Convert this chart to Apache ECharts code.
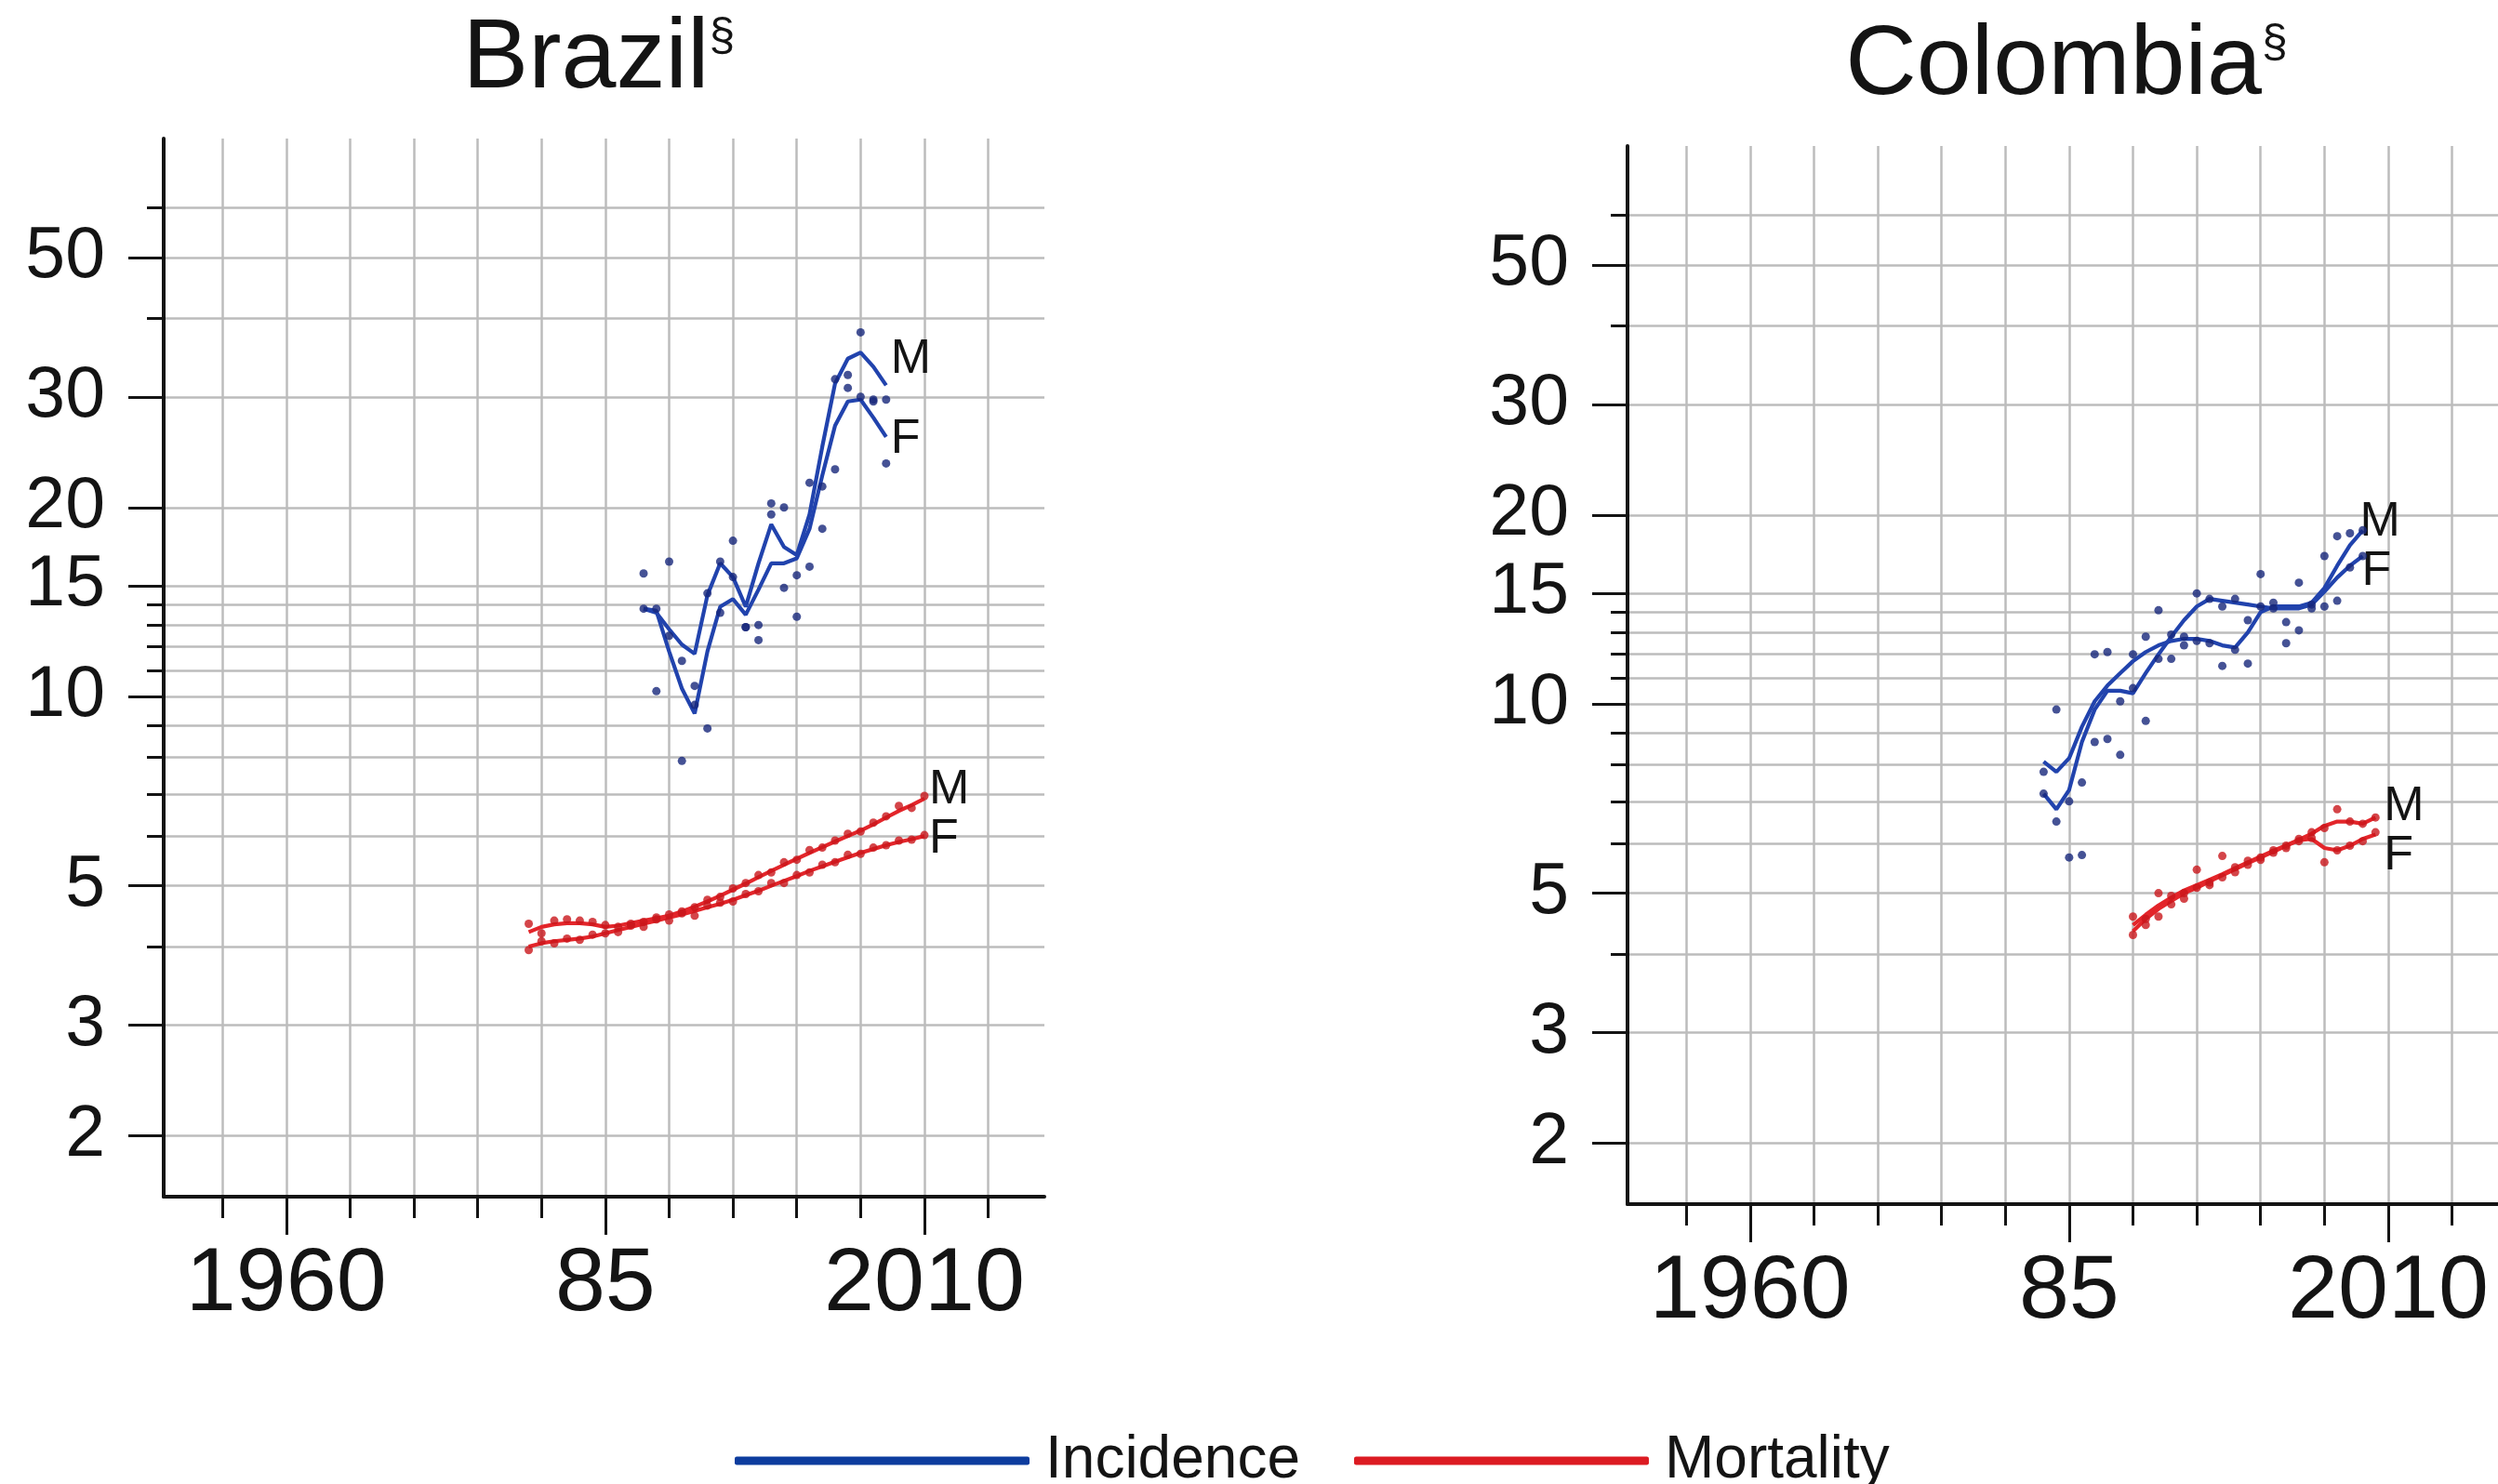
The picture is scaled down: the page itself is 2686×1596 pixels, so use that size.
<!DOCTYPE html>
<html>
<head>
<meta charset="utf-8">
<script src="https://cdn.jsdelivr.net/npm/echarts@6/dist/echarts.min.js"></script>
<style>
html,body{margin:0;padding:0;background:#ffffff;}
#chart{width:2686px;height:1596px;}
</style>
</head>
<body>
<div id="chart"></div>
<script>
// ---------- tick labels / categories ----------
const panelTitles = ['Brazil', 'Colombia'];
const xMajorYears = [1960, 1985, 2010];
const xMajorLabels = ['1960', '85', '2010'];
const xMinorYears = [1955, 1965, 1970, 1975, 1980, 1990, 1995, 2000, 2005, 2015];
const yMajorValues = [2, 3, 5, 10, 15, 20, 30, 50];
const yMinorValues = [4, 6, 7, 8, 9, 11, 12, 13, 14, 40, 60];

// ---------- Brazil ----------
const brIncStart = 1988;
const brIncMLine = [13.8, 13.6, 12.8, 12.1, 11.7, 14.5, 16.3, 15.5, 13.9, 16.3, 18.8, 17.3, 16.8, 19.5, 25.0, 31.5, 34.5, 35.3, 33.5, 31.3];
const brIncFLine = [13.8, 13.7, 11.8, 10.3, 9.4, 11.8, 13.9, 14.3, 13.5, 14.8, 16.3, 16.3, 16.6, 18.5, 22.5, 27.0, 29.5, 29.7, 27.8, 25.9];
const brIncMObs  = [15.7, 13.8, 16.4, 11.4, 10.4, 14.6, 16.4, 17.7, 12.9, 12.3, 20.3, 20.0, 15.6, 21.9, 21.6, 32.0, 32.5, 38.0, 29.7, 29.7];
const brIncFObs  = [13.8, 10.2, 12.5, 7.9, 9.7, 8.9, 13.6, 15.5, 12.9, 13.0, 19.5, 14.9, 13.4, 16.1, 18.5, 23.0, 31.0, 30.0, 29.5, 23.5];

const brMortStart = 1979;
const brMortMLine = [4.22, 4.30, 4.34, 4.36, 4.36, 4.34, 4.30, 4.32, 4.36, 4.40, 4.44, 4.48, 4.55, 4.63, 4.72, 4.82, 4.93, 5.04, 5.16, 5.28, 5.40, 5.52, 5.64, 5.76, 5.88, 6.00, 6.12, 6.26, 6.42, 6.58, 6.72, 6.88];
const brMortFLine = [4.00, 4.05, 4.08, 4.10, 4.12, 4.15, 4.20, 4.25, 4.30, 4.35, 4.40, 4.45, 4.50, 4.56, 4.62, 4.68, 4.75, 4.83, 4.91, 5.00, 5.09, 5.18, 5.28, 5.37, 5.46, 5.55, 5.64, 5.72, 5.80, 5.87, 5.93, 6.00];
const brMortMObs  = [4.35, 4.20, 4.40, 4.42, 4.40, 4.38, 4.33, 4.30, 4.35, 4.38, 4.45, 4.50, 4.55, 4.62, 4.75, 4.80, 4.95, 5.05, 5.20, 5.25, 5.45, 5.50, 5.70, 5.75, 5.90, 6.05, 6.10, 6.30, 6.45, 6.70, 6.65, 6.95];
const brMortFObs  = [3.95, 4.08, 4.05, 4.12, 4.10, 4.18, 4.20, 4.22, 4.32, 4.30, 4.42, 4.40, 4.52, 4.48, 4.65, 4.70, 4.72, 4.85, 4.90, 5.05, 5.05, 5.20, 5.25, 5.40, 5.45, 5.60, 5.62, 5.75, 5.80, 5.90, 5.92, 6.02];

// ---------- Colombia ----------
const coIncStart = 1983;
const coIncMLine = [8.1, 7.8, 8.2, 9.2, 10.1, 10.7, 11.2, 11.7, 12.1, 12.4, 12.6, 12.7, 12.7, 12.6, 12.4, 12.3, 13.0, 14.0, 14.3, 14.3, 14.3, 14.5, 15.3, 16.6, 17.9, 18.9];
const coIncFLine = [7.2, 6.8, 7.3, 8.7, 9.8, 10.5, 10.5, 10.4, 11.2, 12.0, 12.8, 13.6, 14.3, 14.7, 14.6, 14.5, 14.4, 14.3, 14.2, 14.2, 14.2, 14.4, 15.1, 15.9, 16.6, 17.2];
const coIncMObs  = [7.8, 9.8, 7.0, 7.5, 12.0, 12.1, 10.1, 12.0, 12.8, 11.8, 11.8, 12.8, 12.6, 12.5, 11.5, 12.2, 11.6, 14.3, 14.5, 13.5, 13.1, 14.4, 17.2, 18.5, 18.7, 18.9];
const coIncFObs  = [7.2, 6.5, 5.7, 5.75, 8.7, 8.8, 8.3, 10.6, 9.4, 14.1, 12.9, 12.4, 15.0, 14.7, 14.3, 14.7, 13.6, 16.1, 14.2, 12.5, 15.6, 14.2, 14.3, 14.6, 16.5, 17.2];

const coMortStart = 1990;
const coMortMLine = [4.45, 4.62, 4.78, 4.92, 5.05, 5.15, 5.25, 5.36, 5.48, 5.60, 5.72, 5.84, 5.96, 6.08, 6.22, 6.40, 6.50, 6.50, 6.45, 6.60];
const coMortFLine = [4.35, 4.55, 4.72, 4.86, 5.00, 5.10, 5.22, 5.34, 5.46, 5.58, 5.70, 5.82, 5.95, 6.07, 6.10, 5.90, 5.85, 5.95, 6.10, 6.20];
const coMortMObs  = [4.59, 4.55, 5.00, 4.95, 5.00, 5.45, 5.20, 5.73, 5.40, 5.63, 5.70, 5.80, 5.95, 6.10, 6.25, 6.35, 6.80, 6.50, 6.45, 6.60];
const coMortFObs  = [4.29, 4.45, 4.59, 4.80, 4.90, 5.10, 5.15, 5.30, 5.50, 5.55, 5.65, 5.85, 5.90, 6.05, 6.12, 5.60, 5.85, 5.95, 6.05, 6.25];

// ---------- styling ----------
const FONT = 'Liberation Sans, Arial, Helvetica, sans-serif';
const INK = '#141414';
const GRIDC = '#bcbcbc';
const INC_LINE = '#2143ad', INC_DOT = '#16277a', INC_LEG = '#0d3c9e';
const MORT_LINE = '#e3252a', MORT_DOT = '#c9161c', MORT_LEG = '#dc1b22';

function pairs(start, arr) { return arr.map((v, i) => [start + i, v]); }

const panels = [
  { left: 176, top: 149, titleX: 644, titleY: 15,
    inc: [brIncStart, brIncMLine, brIncFLine, brIncMObs, brIncFObs],
    mort: [brMortStart, brMortMLine, brMortFLine, brMortMObs, brMortFObs],
    off: { incM: [0, -28], incF: [0, 3], mortM: [0, -9], mortF: [0, 4] } },
  { left: 1750, top: 157, titleX: 2222, titleY: 22,
    inc: [coIncStart, coIncMLine, coIncFLine, coIncMObs, coIncFObs],
    mort: [coMortStart, coMortMLine, coMortFLine, coMortMObs, coMortFObs],
    off: { incM: [-8, -9], incF: [-6, 17], mortM: [4, -11], mortF: [4, 23] } }
];

const grids = [], xAxes = [], yAxes = [], series = [], titles = [];
const X_MIN = 1950.4, X_MAX = 2019.4, Y_MIN = 1.6, Y_MAX = 77.3;

panels.forEach((p, g) => {
  grids.push({ left: p.left, top: p.top, width: 947, height: 1138, containLabel: false, outerBoundsMode: 'none' });
  const splitStyle = { show: true, lineStyle: { color: GRIDC, width: 2.5, type: 'solid' } };
  xAxes.push({
    type: 'value', gridIndex: g, min: X_MIN, max: X_MAX, position: 'bottom',
    axisLine: { show: true, onZero: false, lineStyle: { color: INK, width: 4, cap: 'round' } },
    axisTick: { show: true, customValues: xMajorYears, length: 41, lineStyle: { color: INK, width: 3 } },
    axisLabel: { show: true, customValues: xMajorYears, margin: 47, fontSize: 97, fontFamily: FONT, color: INK,
      formatter: v => xMajorLabels[xMajorYears.indexOf(Math.round(v))] || '' },
    splitLine: splitStyle
  });
  xAxes.push({
    type: 'value', gridIndex: g, min: X_MIN, max: X_MAX, position: 'bottom',
    axisLine: { show: false, onZero: false },
    axisTick: { show: true, customValues: xMinorYears, length: 23, lineStyle: { color: INK, width: 3 } },
    axisLabel: { show: false },
    splitLine: splitStyle
  });
  yAxes.push({
    type: 'log', logBase: 10, gridIndex: g, min: Y_MIN, max: Y_MAX, position: 'left',
    axisLine: { show: true, onZero: false, lineStyle: { color: INK, width: 4, cap: 'round' } },
    axisTick: { show: true, customValues: yMajorValues, length: 38, lineStyle: { color: INK, width: 3 } },
    axisLabel: { show: true, customValues: yMajorValues, margin: 63, fontSize: 77, fontFamily: FONT, color: INK },
    splitLine: splitStyle
  });
  yAxes.push({
    type: 'log', logBase: 10, gridIndex: g, min: Y_MIN, max: Y_MAX, position: 'left',
    axisLine: { show: false, onZero: false },
    axisTick: { show: true, customValues: yMinorValues, length: 18, lineStyle: { color: INK, width: 3 } },
    axisLabel: { show: false },
    splitLine: splitStyle
  });

  titles.push({
    text: '{a|' + panelTitles[g] + '}{s|§}',
    left: p.titleX, top: p.titleY, textAlign: 'center', padding: 0,
    textStyle: {
      fontWeight: 'normal',
      rich: {
        a: { fontSize: 106, lineHeight: 100, fontFamily: FONT, fontWeight: 'normal', color: INK },
        s: { fontSize: 50, lineHeight: 56, fontFamily: FONT, fontWeight: 'normal', color: INK, verticalAlign: 'top' }
      }
    }
  });

  const xi = g * 2, yi = g * 2;
  function lineS(name, start, arr, color, lab, off) {
    return {
      type: 'line', name: name, xAxisIndex: xi, yAxisIndex: yi, data: pairs(start, arr),
      showSymbol: false, symbol: 'none', smooth: false, silent: true, z: 3,
      lineStyle: { color: color, width: 4.2 }, itemStyle: { color: color },
      endLabel: { show: true, formatter: lab, offset: off, distance: 5, fontSize: 52, fontFamily: FONT, color: INK },
      animation: false
    };
  }
  function dotS(name, start, arr, color) {
    return {
      type: 'scatter', name: name, xAxisIndex: xi, yAxisIndex: yi, data: pairs(start, arr),
      symbol: 'circle', symbolSize: 9, silent: true, z: 4,
      itemStyle: { color: color }, animation: false
    };
  }
  const [is, im, ifl, imo, ifo] = p.inc;
  const [ms, mm, mfl, mmo, mfo] = p.mort;
  series.push(lineS('Incidence', is, im, INC_LINE, 'M', p.off.incM));
  series.push(lineS('Incidence', is, ifl, INC_LINE, 'F', p.off.incF));
  series.push(dotS('Incidence', is, imo, INC_DOT));
  series.push(dotS('Incidence', is, ifo, INC_DOT));
  series.push(lineS('Mortality', ms, mm, MORT_LINE, 'M', p.off.mortM));
  series.push(lineS('Mortality', ms, mfl, MORT_LINE, 'F', p.off.mortF));
  series.push(dotS('Mortality', ms, mmo, MORT_DOT));
  series.push(dotS('Mortality', ms, mfo, MORT_DOT));
});

const chart = echarts.init(document.getElementById('chart'), null, { renderer: 'canvas', width: 2686, height: 1596 });
chart.setOption({
  backgroundColor: '#ffffff',
  animation: false,
  title: titles,
  grid: grids,
  xAxis: xAxes,
  yAxis: yAxes,
  legend: {
    left: 785, top: 1531, orient: 'horizontal',
    itemWidth: 317, itemHeight: 9, itemGap: 58, icon: 'roundRect',
    selectedMode: false,
    textStyle: { fontSize: 64, lineHeight: 70, fontFamily: FONT, color: INK, padding: [0, 0, 0, 12] },
    data: [
      { name: 'Incidence', icon: 'roundRect', itemStyle: { color: INC_LEG } },
      { name: 'Mortality', icon: 'roundRect', itemStyle: { color: MORT_LEG } }
    ]
  },
  series: series
});
</script>
</body>
</html>
